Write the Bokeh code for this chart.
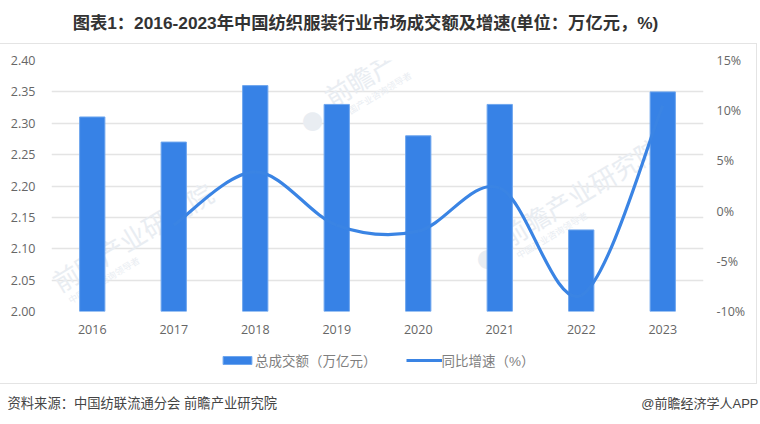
import numpy as np
from bokeh.embed import file_html
from bokeh.layouts import column
from bokeh.resources import INLINE
from bokeh.plotting import figure
from bokeh.models import (ColumnDataSource, FactorRange, Range1d, LinearAxis, FixedTicker,
                          Label, Legend, LegendItem)

years = ["2016", "2017", "2018", "2019", "2020", "2021", "2022", "2023"]
turnover = [2.31, 2.27, 2.36, 2.33, 2.28, 2.33, 2.13, 2.35]
growth_years = ["2017", "2018", "2019", "2020", "2021", "2022", "2023"]
growth = [-1.4, 3.9, -1.4, -2.0, 2.3, -8.4, 10.5]
left_ticks = [2.00, 2.05, 2.10, 2.15, 2.20, 2.25, 2.30, 2.35, 2.40]
right_ticks = [-10, -5, 0, 5, 10, 15]
title_text = "图表1：2016-2023年中国纺织服装行业市场成交额及增速(单位：万亿元，%)"
source_text = "资料来源：中国纺联流通分会 前瞻产业研究院"
credit_text = "@前瞻经济学人APP"
bar_name = "总成交额（万亿元）"
line_name = "同比增速（%）"

W, H = 760, 424
TOP_H, LEG_H, FOOT_H = 43, 39, 40
MAIN_W, MAIN_H = 757, H - TOP_H - LEG_H - FOOT_H
FL, FR, FT, FB = 51, 703, 60 - TOP_H - 1, 311 - TOP_H - 1
BLUE = "#3782e6"
LINE = "#3a84e4"
EDGE = "#6ea6ee"
GREY = "#666666"
CJK = "'Liberation Sans', 'Noto Sans CJK SC', sans-serif"
TICK = "'Open Sans', 'Noto Sans CJK SC', sans-serif"
RULE = "#e4e4e4"


def strip(width, height, **kw):
    f = figure(width=width, height=height, output_backend="svg", toolbar_location=None,
               x_axis_type=None, y_axis_type=None, x_range=Range1d(0, 1), y_range=Range1d(0, 1),
               min_border=0, outline_line_color=None, frame_align=False, **kw)
    f.grid.visible = False
    return f


top = strip(W, TOP_H)
top.add_layout(Label(x=365, y=TOP_H - 22, x_units="screen", y_units="screen", text=title_text,
                     text_font=CJK, text_font_size="17.3px", text_font_style="bold", text_color="#333333",
                     text_align="center", text_baseline="middle"))

foot = strip(W, FOOT_H)
foot.add_layout(Label(x=7, y=FOOT_H - 19, x_units="screen", y_units="screen", text=source_text,
                      text_font=CJK, text_font_size="13.3px", text_color="#444444", text_baseline="middle"))
foot.add_layout(Label(x=758, y=FOOT_H - 19, x_units="screen", y_units="screen", text=credit_text,
                      text_font=CJK, text_font_size="13px", text_color="#444444", text_align="right",
                      text_baseline="middle"))

p = figure(width=MAIN_W, height=MAIN_H, output_backend="svg", toolbar_location=None,
           x_range=FactorRange(factors=years), y_range=Range1d(2.0, 2.4),
           min_border_left=FL, min_border_right=MAIN_W - FR, min_border_top=FT,
           min_border_bottom=MAIN_H - FB, outline_line_color=None, frame_align=False,
           styles={"border-top": f"1px solid {RULE}", "border-right": f"1px solid {RULE}",
                   "box-sizing": "border-box"})
p.extra_y_ranges = {"g": Range1d(-10, 15)}

# faint watermarks, inside the plot area
marks = [(55, 285, "前瞻产业研究院"), (327, 100, "前瞻产"), (503, 240, "前瞻产业研究院")]
for mx, my, text in marks:
    p.add_layout(Label(x=mx - FL, y=311 - my, x_units="screen", y_units="screen", text=text,
                       text_font=CJK, text_font_size="26px", text_color="#e9edf2", angle=31,
                       angle_units="deg", text_baseline="middle", level="underlay"))
    p.add_layout(Label(x=mx - FL + 14, y=311 - my - 16, x_units="screen", y_units="screen",
                       text="中国产业咨询领导者", text_font=CJK, text_font_size="9px",
                       text_color="#e9edf2", angle=31, angle_units="deg",
                       text_baseline="middle", level="underlay"))
for lx, ly in [(312, 118), (487, 256)]:
    p.add_layout(Label(x=lx - FL, y=311 - ly, x_units="screen", y_units="screen", text="●",
                       text_font=CJK, text_font_size="44px", text_color="#e9edf2",
                       text_align="center", text_baseline="middle", level="underlay"))

p.vbar(x=years, top=turnover, bottom=2.0, width=0.31, fill_color=BLUE, line_color=EDGE, line_width=1)

# smooth line: Bezier control points derived from the data so the renderer can curve it
gx = np.array([years.index(y) + 0.5 for y in growth_years])
gy = np.array(growth, dtype=float)
px_ = np.r_[gx[0], gx, gx[-1]]
py_ = np.r_[gy[0], gy, gy[-1]]
seg = ColumnDataSource(dict(
    x0=gx[:-1], y0=gy[:-1], x1=gx[1:], y1=gy[1:],
    cx0=gx[:-1] + (px_[2:-1] - px_[:-3]) / 6, cy0=gy[:-1] + (py_[2:-1] - py_[:-3]) / 6,
    cx1=gx[1:] - (px_[3:] - px_[1:-2]) / 6, cy1=gy[1:] - (py_[3:] - py_[1:-2]) / 6))
p.bezier(x0="x0", y0="y0", x1="x1", y1="y1", cx0="cx0", cy0="cy0", cx1="cx1", cy1="cy1",
         source=seg, y_range_name="g", line_color=LINE, line_width=3.2)

p.yaxis.ticker = FixedTicker(ticks=left_ticks)
p.yaxis.major_label_overrides = {v: f"{v:.2f}" for v in left_ticks}
right = LinearAxis(y_range_name="g", ticker=FixedTicker(ticks=right_ticks),
                   major_label_overrides={v: f"{v}%" for v in right_ticks})
p.add_layout(right, "right")
for ax in [p.yaxis[0], right, p.xaxis[0]]:
    ax.axis_line_color = None
    ax.major_tick_line_color = None
    ax.minor_tick_line_color = None
    ax.major_label_text_font = TICK
    ax.major_label_text_font_size = "12.5px"
    ax.major_label_text_color = GREY
p.yaxis[0].major_label_standoff = 10
right.major_label_standoff = 7
p.xaxis[0].major_label_standoff = 7
p.xgrid.grid_line_color = None
p.ygrid.grid_line_color = RULE
p.ygrid.grid_line_width = 1.5
p.ygrid.ticker = FixedTicker(ticks=left_ticks)

# the legend sits in its own strip below the plot; its key renderers use the same series and
# styles, and lie beyond that strip's ranges so that only their legend keys appear
leg = strip(MAIN_W, LEG_H, styles={"border-bottom": f"1px solid {RULE}", "border-right": f"1px solid {RULE}",
                                   "box-sizing": "border-box"})
key_bar = leg.vbar(x=gx, top=turnover[1:], bottom=2.0, width=0.31, fill_color=BLUE, line_color=EDGE, line_width=1)
key_line = leg.line(x=gx, y=growth, line_color=LINE, line_width=3.2)
legend = Legend(items=[LegendItem(label=bar_name, renderers=[key_bar]),
                       LegendItem(label=line_name, renderers=[key_line])],
                orientation="horizontal", location=(219, 14),
                border_line_color=None, background_fill_alpha=0, glyph_width=36, glyph_height=10,
                label_text_font=CJK, label_text_font_size="13.5px", label_text_color="#7f7f7f",
                spacing=29, padding=5, label_standoff=0, margin=0)
leg.add_layout(legend, "center")

page = column(top, p, leg, foot, spacing=0)
open("out.html", "w").write(file_html(page, INLINE))
